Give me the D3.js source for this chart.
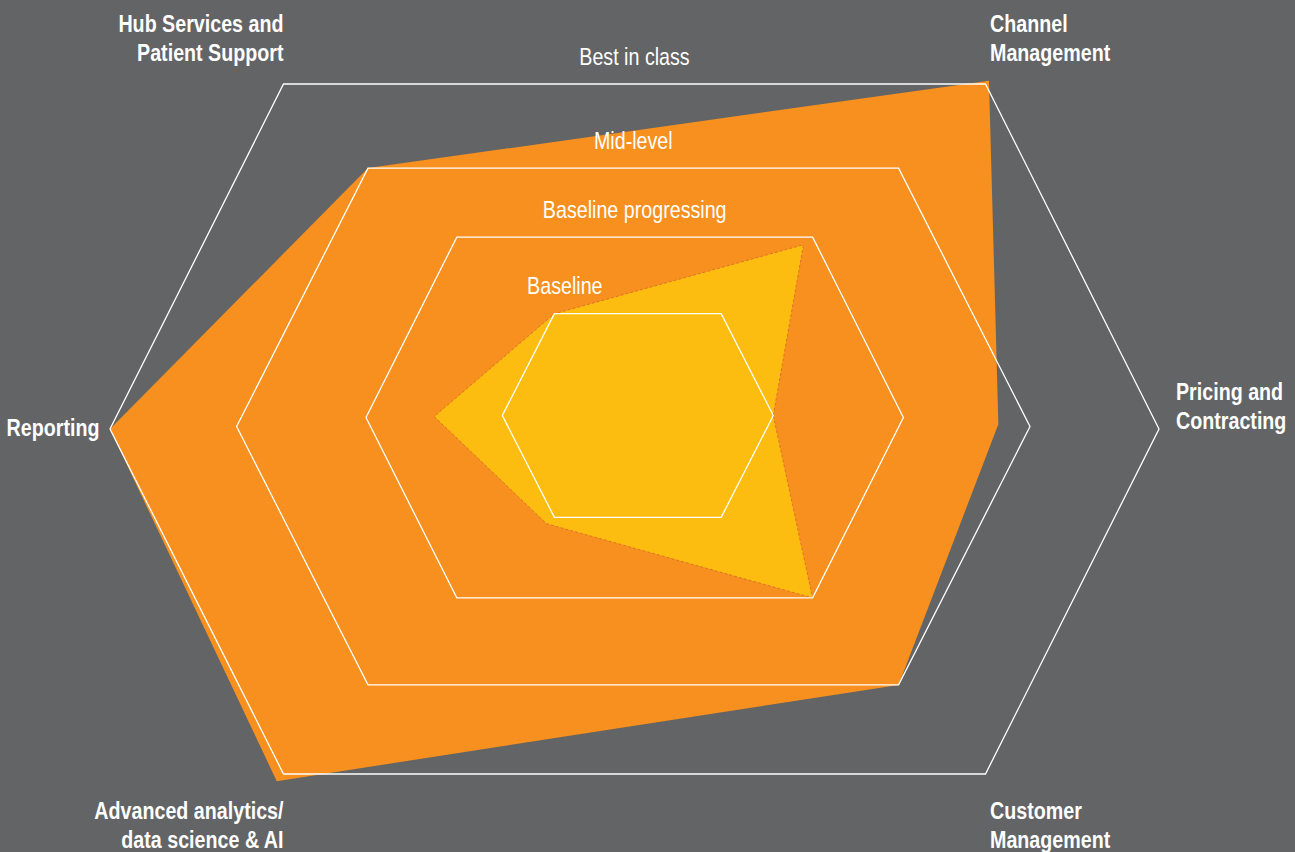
<!DOCTYPE html>
<html>
<head>
<meta charset="utf-8">
<script src="https://cdn.jsdelivr.net/npm/d3@7"></script>
<style>
  body { margin: 0; background: #636466; }
  svg { display: block; }
  text { font-family: "Liberation Sans", Arial, sans-serif; fill: #fff; }
</style>
</head>
<body>
<svg id="chart"></svg>
<script>
// capability axes, counter-clockwise starting from the right
const categories = ["Pricing and Contracting", "Channel Management", "Hub Services and Patient Support",
                    "Reporting", "Advanced analytics/data science & AI", "Customer Management"];
const categoryLines = [["Pricing and", "Contracting"], ["Channel", "Management"], ["Hub Services and", "Patient Support"],
                       ["Reporting"], ["Advanced analytics/", "data science & AI"], ["Customer", "Management"]];

// maturity levels (rings)
const levelNames = ["Baseline", "Baseline progressing", "Mid-level", "Best in class"];
const levelValues = [1, 2, 3, 4];

// series (level reached on each axis)
const targetValues = [2.75, 4.04, 3, 4, 4.08, 3];   // orange
const currentValues = [1, 1.9, 1, 1.5, 1.08, 2];    // yellow

const W = 1295, H = 852;
const svg = d3.select("#chart").attr("width", W).attr("height", H);

svg.append("rect").attr("width", W).attr("height", H).attr("fill", "#636466");

// the rings are drawn by hand in the original, so each level has its own geometry
const lv = [0, 1, 2, 3, 4];
const cxScale = d3.scaleLinear().domain(lv).range([637.8, 637.8, 634.7, 633.3, 634.5]);
const cyScale = d3.scaleLinear().domain(lv).range([415.5, 415.5, 417.5, 426.5, 429]);
const rxScale = d3.scaleLinear().domain(lv).range([0, 135.5, 268.7, 396.7, 524.5]); // left/right vertex
const txScale = d3.scaleLinear().domain(lv).range([0, 83.4, 177.9, 265.3, 351]);    // diagonal vertex x
const tyScale = d3.scaleLinear().domain(lv).range([0, 101.8, 180.4, 258.4, 345]);   // diagonal vertex y

function pt(i, v) {
    const a = i * Math.PI / 3;
    const sx = Math.sign(Math.round(Math.cos(a) * 1000));
    const sy = Math.sign(Math.round(Math.sin(a) * 1000));
    if (sy === 0) return [cxScale(v) + sx * rxScale(v), cyScale(v)];
    return [cxScale(v) + sx * txScale(v), cyScale(v) - sy * tyScale(v)];
}

const shape = d3.line().curve(d3.curveLinearClosed);
// the original uses a condensed face, so squeeze the text horizontally
const squeeze = 0.82;

// orange polygon
svg.append("path")
    .attr("d", shape(targetValues.map((v, i) => pt(i, v))))
    .attr("fill", "#f7901e");

// yellow polygon with dashed edge
svg.append("path")
    .attr("d", shape(currentValues.map((v, i) => pt(i, v))))
    .attr("fill", "#fdbd10")
    .attr("stroke", "#dc7426")
    .attr("stroke-width", 1)
    .attr("stroke-dasharray", "3,2");

// rings
svg.append("g")
    .selectAll("path")
    .data(levelValues)
    .enter()
    .append("path")
    .attr("d", l => shape(categories.map((c, i) => pt(i, l))))
    .attr("fill", "none")
    .attr("stroke", "#fff")
    .attr("stroke-width", 1.3);

// ring names above each top edge
const levelDx = [-73, 0, 0, 0];
svg.append("g")
    .selectAll("text")
    .data(levelValues)
    .enter()
    .append("text")
    .attr("transform", (l, k) => `translate(${cxScale(l) + levelDx[k]},${cyScale(l) - tyScale(l) - 19.5}) scale(${squeeze},1)`)
    .attr("text-anchor", "middle")
    .attr("font-size", "24px")
    .text((l, k) => levelNames[k]);

// axis names around the outer ring
const labelPos = [
    {anchor: "start", dx: 17, dy: -29},
    {anchor: "start", dx: 4.5, dy: -51.7},
    {anchor: "end", dx: 0, dy: -51.7},
    {anchor: "end", dx: -10.5, dy: 7},
    {anchor: "end", dx: 0, dy: 45.3},
    {anchor: "start", dx: 4.5, dy: 45.3}
];
const lineH = 28.7;
const outer = d3.max(levelValues);

const labels = svg.append("g")
    .selectAll("text")
    .data(categories)
    .enter()
    .append("text")
    .attr("transform", (c, i) => {
        const p = pt(i, outer);
        return `translate(${p[0] + labelPos[i].dx},${p[1] + labelPos[i].dy}) scale(${squeeze},1)`;
    })
    .attr("text-anchor", (c, i) => labelPos[i].anchor)
    .attr("font-size", "24px")
    .attr("font-weight", "700");

labels.each(function(c, i) {
    d3.select(this)
        .selectAll("tspan")
        .data(categoryLines[i])
        .enter()
        .append("tspan")
        .attr("x", 0)
        .attr("y", (s, j) => j * lineH)
        .text(s => s);
});
</script>
</body>
</html>
